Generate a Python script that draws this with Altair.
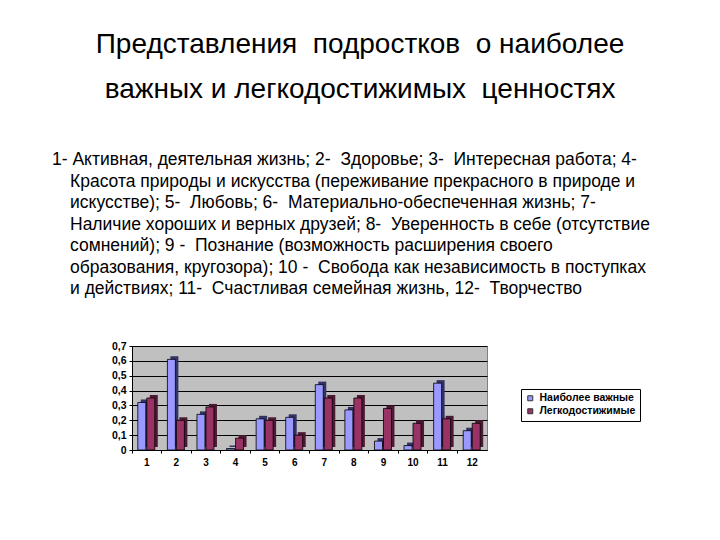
import altair as alt
import pandas as pd

# categories (values) and the two series
cats = ["1", "2", "3", "4", "5", "6", "7", "8", "9", "10", "11", "12"]
important = [0.32, 0.61, 0.24, 0.01, 0.21, 0.22, 0.44, 0.27, 0.06, 0.03, 0.45, 0.13]
reachable = [0.35, 0.20, 0.29, 0.08, 0.20, 0.10, 0.35, 0.35, 0.28, 0.18, 0.21, 0.18]
series = ["Наиболее важные", "Легкодостижимые"]

title_lines = [
    "Представления  подростков  о наиболее",
    "важных и легкодостижимых  ценностях",
]
para_lines = [
    "1- Активная, деятельная жизнь; 2-  Здоровье; 3-  Интересная работа; 4-",
    "Красота природы и искусства (переживание прекрасного в природе и",
    "искусстве); 5-  Любовь; 6-  Материально-обеспеченная жизнь; 7-",
    "Наличие хороших и верных друзей; 8-  Уверенность в себе (отсутствие",
    "сомнений); 9 -  Познание (возможность расширения своего",
    "образования, кругозора); 10 -  Свобода как независимость в поступках",
    "и действиях; 11-  Счастливая семейная жизнь, 12-  Творчество",
]

df = pd.DataFrame({
    "cat": cats * 2,
    "value": important + reachable,
    "series": [series[0]] * 12 + [series[1]] * 12,
})

FONT = "Liberation Sans"
# plot area origin on the page is (132, 346)
OX, OY = 132, 346


def keep_spaces(s):
    # svg collapses runs of spaces, so keep the doubled ones with a no-break space
    return s.replace("  ", "\u00a0 ")


x = alt.X("cat:O", sort=cats, title=None,
          scale=alt.Scale(paddingInner=0, paddingOuter=0),
          axis=alt.Axis(labelAngle=0, labelFontWeight="bold", labelFontSize=10,
                        labelFont=FONT, labelColor="black", bandPosition=0,
                        tickColor="black", tickSize=3, domainColor="black",
                        labelPadding=4))
y = alt.Y("value:Q", title=None,
          scale=alt.Scale(domain=[0, 0.7]),
          axis=alt.Axis(values=[0, 0.1, 0.2, 0.3, 0.4, 0.5, 0.6, 0.7],
                        labelExpr="datum.value == 0 ? '0' : replace(format(datum.value, '.1f'), '.', ',')",
                        labelFontWeight="bold", labelFontSize=10.5, labelFont=FONT,
                        labelColor="black", gridColor="black", gridWidth=1,
                        tickColor="black", tickSize=3, domainColor="black",
                        labelPadding=3))

color = alt.Color("series:N", sort=series, title=None,
                  scale=alt.Scale(domain=series, range=["#9999ff", "#993366"]),
                  legend=alt.Legend(orient="none", legendX=389, legendY=43,
                                    strokeColor="black", fillColor="white",
                                    padding=4, rowPadding=2, symbolType="square",
                                    symbolSize=25, symbolStrokeColor="#333333",
                                    symbolStrokeWidth=1, labelFontSize=10.5,
                                    labelFontWeight="bold", labelFont=FONT,
                                    labelColor="black", labelOffset=4))

base = alt.Chart(df)
layers = []
for name, off, dark in [(series[0], -5, "#333366"), (series[1], 4, "#4d1a33")]:
    sub = base.transform_filter(alt.datum.series == name)
    # 3D depth: a dark copy shifted right and up, behind the front face
    layers.append(sub.mark_bar(width=8, xOffset=off + 3, yOffset=-3, color=dark)
                  .encode(x=x, y=y))
    layers.append(sub.mark_bar(width=8, xOffset=off, stroke="black", strokeWidth=0.8)
                  .encode(x=x, y=y, color=color))

texts = []
for i, line in enumerate(title_lines):
    texts.append(alt.Chart(pd.DataFrame({"t": [keep_spaces(line)]})).mark_text(
        font=FONT, fontSize=28, align="center", baseline="middle", color="black"
    ).encode(text="t:N", x=alt.value(360 - OX), y=alt.value(45 + i * 45 - OY)))

for i, line in enumerate(para_lines):
    left = 52 if i == 0 else 70
    texts.append(alt.Chart(pd.DataFrame({"t": [keep_spaces(line)]})).mark_text(
        font=FONT, fontSize=17.5, align="left", baseline="middle", color="black"
    ).encode(text="t:N", x=alt.value(left - OX), y=alt.value(160 + i * 21.5 - OY)))

chart = alt.layer(*layers, *texts).properties(
    width=355, height=104,
    background="white",
    autosize=alt.AutoSizeParams(type="none"),
    padding={"left": OX - 8, "top": OY - 8, "right": 704 - (OX - 8) - 355,
             "bottom": 524 - (OY - 8) - 104},
).configure_view(fill="#c0c0c0", stroke="#808080")

chart.save("out.html", embed_options={"renderer": "svg", "actions": False})
